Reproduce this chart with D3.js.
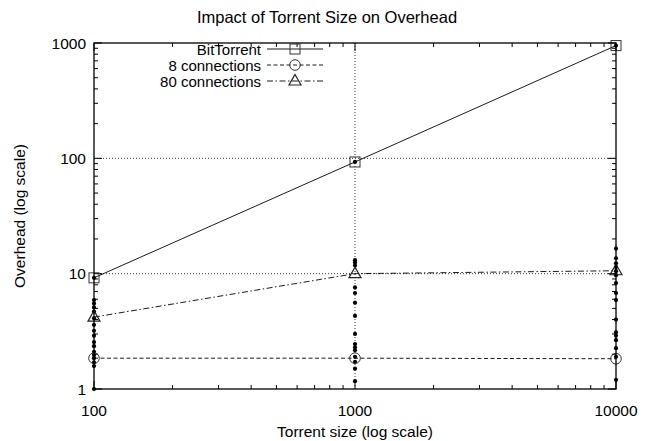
<!DOCTYPE html>
<html><head><meta charset="utf-8">
<script src="https://cdn.jsdelivr.net/npm/d3@7"></script>
<style>body{margin:0;background:#fff}svg{display:block}text{font-family:"Liberation Sans",Arial,sans-serif;fill:#000}</style>
</head><body><svg id="c" width="655" height="441"></svg>
<script>
const sizes = [100, 1000, 10000];
const bitTorrent = [9.2, 93, 950];
const conn8 = [1.85, 1.85, 1.83];
const conn80 = [4.2, 10, 10.6];
const samples100 = [9.2, 5.9, 5.5, 5.1, 4.7, 4.1, 3.6, 3.2, 2.9, 2.55, 2.35, 2.1, 1.97, 1.85, 1.7, 1.58, 1.0];
const samples1000 = [93, 13.1, 12.5, 11.8, 7.6, 6.8, 5.6, 4.3, 3.0, 2.45, 2.3, 2.17, 1.9, 1.72, 1.5, 1.17];
const samples10000 = [950, 16.5, 13.6, 12.3, 11.4, 10.5, 9.7, 8.3, 6.8, 5.9, 4.0, 3.1, 2.9, 2.65, 2.26, 1.9, 1.2];
const yTicks = [1, 10, 100, 1000];
const xTicks = [100, 1000, 10000];

const svg = d3.select("#c");
const L = 94, R = 616, T = 43, B = 389;
const x = d3.scaleLog().domain([100, 10000]).range([L, R]);
const y = d3.scaleLog().domain([1, 1000]).range([B, T]);

svg.append("text").attr("x", 327).attr("y", 23).attr("text-anchor", "middle").style("font-size", "16.5px").text("Impact of Torrent Size on Overhead");

const g = svg.append("g");
[10, 100].forEach(v => g.append("line").attr("x1", L).attr("x2", R).attr("y1", y(v)).attr("y2", y(v)).attr("stroke", "#000").attr("stroke-width", 0.8).attr("stroke-dasharray", "1,2"));
[1000].forEach(v => g.append("line").attr("x1", x(v)).attr("x2", x(v)).attr("y1", T).attr("y2", B).attr("stroke", "#000").attr("stroke-width", 0.8).attr("stroke-dasharray", "1,2"));

const xMinor = [], yMinor = [];
[100, 1000].forEach(d => { for (let k = 2; k <= 9; k++) xMinor.push(d * k); });
[1, 10, 100].forEach(d => { for (let k = 2; k <= 9; k++) yMinor.push(d * k); });

const ax = svg.append("g").attr("stroke", "#000").attr("stroke-width", 1);
xMinor.forEach(v => { ax.append("line").attr("x1", x(v)).attr("x2", x(v)).attr("y1", B).attr("y2", B - 4); ax.append("line").attr("x1", x(v)).attr("x2", x(v)).attr("y1", T).attr("y2", T + 4); });
xTicks.forEach(v => { ax.append("line").attr("x1", x(v)).attr("x2", x(v)).attr("y1", B).attr("y2", B - 8); ax.append("line").attr("x1", x(v)).attr("x2", x(v)).attr("y1", T).attr("y2", T + 8); });
yMinor.forEach(v => { ax.append("line").attr("y1", y(v)).attr("y2", y(v)).attr("x1", L).attr("x2", L + 4); ax.append("line").attr("y1", y(v)).attr("y2", y(v)).attr("x1", R).attr("x2", R - 4); });
yTicks.forEach(v => { ax.append("line").attr("y1", y(v)).attr("y2", y(v)).attr("x1", L).attr("x2", L + 8); ax.append("line").attr("y1", y(v)).attr("y2", y(v)).attr("x1", R).attr("x2", R - 8); });

xTicks.forEach(v => svg.append("text").attr("x", x(v)).attr("y", B + 27).attr("text-anchor", "middle").style("font-size", "15.5px").text(v));
yTicks.forEach(v => svg.append("text").attr("x", L - 8).attr("y", y(v) + 5.5).attr("text-anchor", "end").style("font-size", "15.5px").text(v));

svg.append("text").attr("x", 355).attr("y", 437).attr("text-anchor", "middle").style("font-size", "15.5px").text("Torrent size (log scale)");
svg.append("text").attr("transform", `translate(25,${(T + B) / 2}) rotate(-90)`).attr("text-anchor", "middle").style("font-size", "15.5px").text("Overhead (log scale)");

const line = d3.line().x((d, i) => x(sizes[i])).y(d => y(d));
const styles = [
  {data: bitTorrent, dash: null, name: "BitTorrent", marker: "square"},
  {data: conn8, dash: "4,2.5", name: "8 connections", marker: "circle"},
  {data: conn80, dash: "6,2.5,1.5,2.5", name: "80 connections", marker: "triangle"}
];
styles.forEach(s => svg.append("path").attr("d", line(s.data)).attr("fill", "none").attr("stroke", "#000").attr("stroke-width", 0.9).attr("stroke-dasharray", s.dash));

[[100, samples100], [1000, samples1000], [10000, samples10000]].forEach(([sx, arr]) => {
  arr.forEach(v => svg.append("circle").attr("cx", x(sx)).attr("cy", y(v)).attr("r", 2.1).attr("fill", "#000"));
});

function marker(type, cx, cy) {
  if (type === "square") svg.append("rect").attr("x", cx - 5).attr("y", cy - 5).attr("width", 10).attr("height", 10).attr("fill", "none").attr("stroke", "#333").attr("stroke-width", 1);
  else if (type === "circle") svg.append("circle").attr("cx", cx).attr("cy", cy).attr("r", 5.3).attr("fill", "none").attr("stroke", "#333").attr("stroke-width", 1);
  else svg.append("path").attr("d", `M${cx},${cy - 6.5}L${cx + 6},${cy + 4}L${cx - 6},${cy + 4}Z`).attr("fill", "none").attr("stroke", "#222").attr("stroke-width", 1.2);
}
styles.forEach(s => s.data.forEach((v, i) => marker(s.marker, x(sizes[i]), y(v))));

svg.append("rect").attr("x", L).attr("y", T).attr("width", R - L).attr("height", B - T).attr("fill", "none").attr("stroke", "#000").attr("stroke-width", 1.3);

styles.forEach((s, i) => {
  const ly = 49 + i * 16;
  svg.append("text").attr("x", 261).attr("y", ly + 5.5).attr("text-anchor", "end").style("font-size", "15px").text(s.name);
  svg.append("line").attr("x1", 267).attr("x2", 323).attr("y1", ly).attr("y2", ly).attr("stroke", "#000").attr("stroke-width", 0.9).attr("stroke-dasharray", s.dash);
  marker(s.marker, 295, ly);
});
</script></body></html>
